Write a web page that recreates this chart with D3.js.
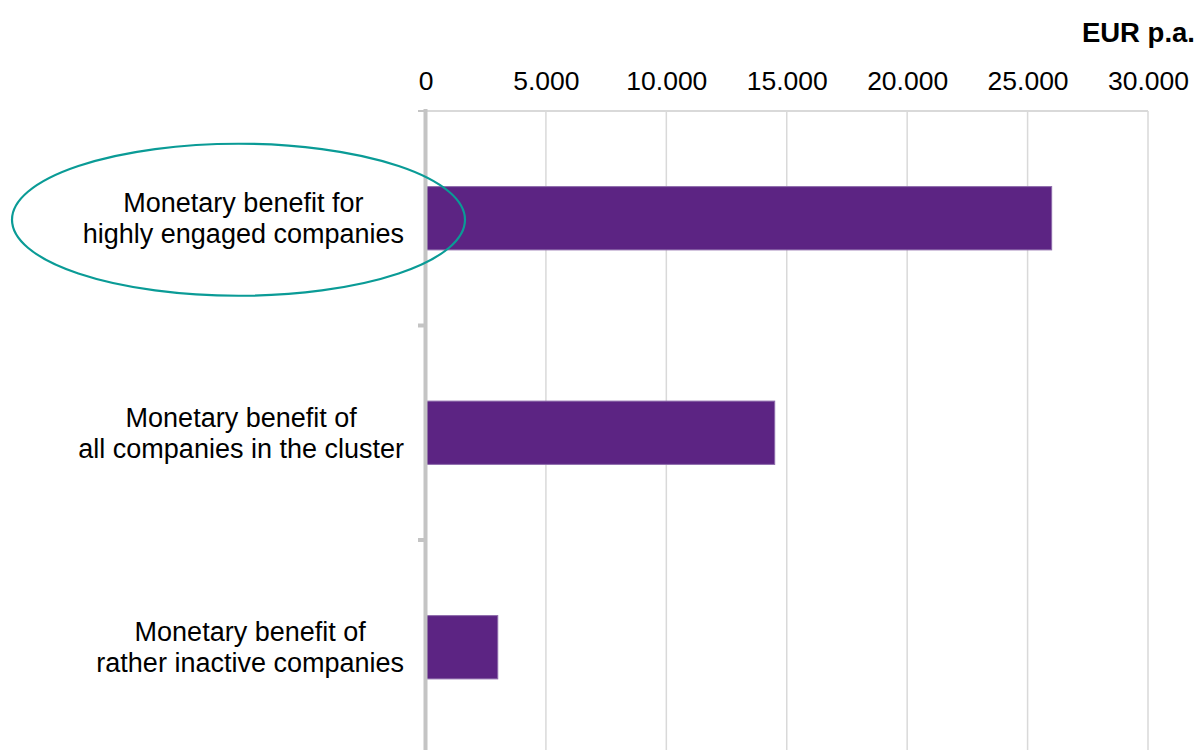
<!DOCTYPE html>
<html>
<head>
<meta charset="utf-8">
<script src="https://cdn.jsdelivr.net/npm/d3@7"></script>
<style>
  html, body { margin: 0; padding: 0; background: #ffffff; }
  svg { display: block; }
  text { font-family: "Liberation Sans", Arial, sans-serif; fill: #000; }
</style>
</head>
<body>
<svg id="chart" width="1197" height="750"></svg>
<script>
// Categories (each label is split over two lines)
const categories = [
  "Monetary benefit for|highly engaged companies",
  "Monetary benefit of|all companies in the cluster",
  "Monetary benefit of|rather inactive companies"
];
// Annual monetary benefit, EUR
const values = [26000, 14500, 3000];
// Axis ticks and their labels
const tickValues = [0, 5000, 10000, 15000, 20000, 25000, 30000];
const tickLabels = ["0", "5.000", "10.000", "15.000", "20.000", "25.000", "30.000"];
const unitLabel = "EUR p.a.";
// Category that is circled
const highlighted = 0;

const svg = d3.select("#chart");
const W = 1197, H = 750;

const x = d3.scaleLinear().domain([0, 30000]).range([425.5, 1148]);
const y = d3.scaleBand().domain(d3.range(categories.length))
  .range([111, 754.5]).paddingInner(0.705).paddingOuter(0.3525);
const bandTop = d3.scaleBand().domain(d3.range(categories.length)).range([111, 754.5]);

// vertical gridlines
svg.append("g")
  .selectAll("line")
  .data(tickValues.slice(1))
  .join("line")
  .attr("x1", d => x(d)).attr("x2", d => x(d))
  .attr("y1", 111).attr("y2", H)
  .attr("stroke", "#d9d9d9").attr("stroke-width", 1.5);

// top axis line
svg.append("line")
  .attr("x1", 418).attr("x2", x(30000))
  .attr("y1", 111).attr("y2", 111)
  .attr("stroke", "#d9d9d9").attr("stroke-width", 2);

// tick labels above the plot
const xAxis = d3.axisTop(x).tickValues(tickValues)
  .tickFormat((d, i) => tickLabels[i]).tickSize(0).tickPadding(0);
const gx = svg.append("g").attr("transform", "translate(0,90)").call(xAxis);
gx.select(".domain").remove();
gx.selectAll("text")
  .attr("dy", 0)
  .style("font-family", "'Liberation Sans', Arial, sans-serif")
  .style("font-size", "26.5px")
  .attr("fill", "#000");

// unit label
svg.append("text")
  .attr("x", 1195).attr("y", 42)
  .attr("text-anchor", "end")
  .style("font-size", "27.5px").style("font-weight", "bold")
  .text(unitLabel);

// bars
svg.append("g")
  .selectAll("rect")
  .data(values)
  .join("rect")
  .attr("x", x(0))
  .attr("y", (d, i) => y(i))
  .attr("width", d => x(d) - x(0))
  .attr("height", y.bandwidth())
  .attr("fill", "#5c2483")
  .attr("stroke", "#8d6aab")
  .attr("stroke-width", 1);

// category axis line and separators between categories
svg.append("line")
  .attr("x1", x(0)).attr("x2", x(0))
  .attr("y1", 109).attr("y2", H)
  .attr("stroke", "#c4c4c4").attr("stroke-width", 4);
svg.append("g")
  .selectAll("line")
  .data(d3.range(categories.length + 1))
  .join("line")
  .attr("x1", 418).attr("x2", x(0))
  .attr("y1", d => d < categories.length ? bandTop(d) : 754.5)
  .attr("y2", d => d < categories.length ? bandTop(d) : 754.5)
  .attr("stroke", "#c4c4c4")
  .attr("stroke-width", d => d === 0 ? 2 : 4);

// category labels: lines centred within a block that is right-aligned to the axis
const labelRight = 404;
categories.forEach((c, i) => {
  const lines = c.split("|");
  const cy = y(i) + y.bandwidth() / 2;
  const g = svg.append("g");
  const texts = lines.map((ln, k) => g.append("text")
    .attr("y", cy - 6 + k * 31)
    .attr("text-anchor", "middle")
    .style("font-size", "27px")
    .text(ln));
  const maxW = d3.max(texts, t => t.node().getComputedTextLength());
  texts.forEach(t => t.attr("x", labelRight - maxW / 2));
});

// highlight ellipse around the first category
const hy = y(highlighted) + y.bandwidth() / 2;
svg.append("ellipse")
  .attr("cx", 238.5).attr("cy", hy + 1.5)
  .attr("rx", 226.5).attr("ry", 76)
  .attr("fill", "none")
  .attr("stroke", "#0a9b96")
  .attr("stroke-width", 2.2);
</script>
</body>
</html>
